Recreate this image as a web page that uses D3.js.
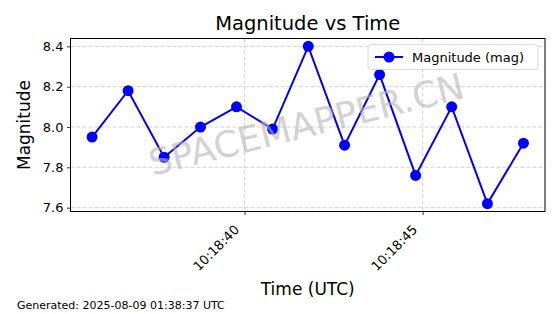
<!DOCTYPE html>
<html>
<head>
<meta charset="utf-8">
<script src="https://cdn.jsdelivr.net/npm/d3@7"></script>
<style>
  body { margin: 0; background: #fff; }
  svg { font-family: "DejaVu Sans", sans-serif; }
</style>
</head>
<body>
<svg id="chart" width="560" height="314"></svg>
<script>
// observation times (seconds after 10:18:00 UTC) and magnitudes
var seconds = [35.722, 36.733, 37.744, 38.764, 39.775, 40.787, 41.789, 42.809, 43.792, 44.803, 45.815, 46.818, 47.829];
var magnitudes = [7.95, 8.18, 7.85, 8.00, 8.10, 7.99, 8.40, 7.91, 8.26, 7.76, 8.10, 7.62, 7.92];
var yTicks = [7.6, 7.8, 8.0, 8.2, 8.4];
var xTickSeconds = [40, 45];

var times = seconds.map(function(s){ return new Date(Date.UTC(2025, 7, 8, 10, 18, 0) + s * 1000); });
var data = times.map(function(t, i){ return {t: t, m: magnitudes[i]}; });

var margin = {left: 70.5, right: 15, top: 38.5, bottom: 102.5};
var W = 560, H = 314;
var w = W - margin.left - margin.right, h = H - margin.top - margin.bottom;

var svg = d3.select("#chart");
var g = svg.append("g").attr("transform", "translate(" + margin.left + "," + margin.top + ")");

// matplotlib-like 5% padding
var tExt = d3.extent(times), pad = (tExt[1] - tExt[0]) * 0.05;
var x = d3.scaleUtc().domain([new Date(+tExt[0] - pad), new Date(+tExt[1] + pad)]).range([0, w]);
var mExt = d3.extent(magnitudes), mPad = (mExt[1] - mExt[0]) * 0.05;
var y = d3.scaleLinear().domain([mExt[0] - mPad, mExt[1] + mPad]).range([h, 0]);

var xTicks = xTickSeconds.map(function(s){ return new Date(Date.UTC(2025, 7, 8, 10, 18, s)); });

// grid
g.append("g").selectAll("line.gy").data(yTicks).enter().append("line")
  .attr("x1", 0).attr("x2", w)
  .attr("y1", function(d){ return y(d); }).attr("y2", function(d){ return y(d); })
  .attr("stroke", "#c8c8c8").attr("stroke-width", 0.8).attr("stroke-dasharray", "4,2");
g.append("g").selectAll("line.gx").data(xTicks).enter().append("line")
  .attr("y1", 0).attr("y2", h)
  .attr("x1", function(d){ return x(d); }).attr("x2", function(d){ return x(d); })
  .attr("stroke", "#c8c8c8").attr("stroke-width", 0.8).attr("stroke-dasharray", "4,2");

// watermark
svg.append("text")
  .attr("transform", "translate(307,127) rotate(-14)")
  .attr("text-anchor", "middle").attr("dominant-baseline", "middle")
  .attr("font-size", 36).attr("fill", "#b4b4b4").attr("fill-opacity", 0.6)
  .text("SPACEMAPPER.CN");

// axes
var yAxis = g.append("g")
  .call(d3.axisLeft(y).tickValues(yTicks).tickFormat(d3.format(".1f")).tickSize(3.5).tickPadding(3.5));
var xAxis = g.append("g").attr("transform", "translate(0," + h + ")")
  .call(d3.axisBottom(x).tickValues(xTicks).tickFormat(d3.utcFormat("%H:%M:%S")).tickSize(3.5).tickPadding(3.5));
[xAxis, yAxis].forEach(function(a){
  a.select(".domain").remove();
  a.selectAll("text").attr("font-size", 13).attr("fill", "#000").attr("font-family", "DejaVu Sans");
  a.selectAll("line").attr("stroke", "#000").attr("stroke-width", 0.8);
});
xAxis.selectAll("text")
  .attr("text-anchor", "end").attr("dy", null).attr("y", 0)
  .attr("transform", "translate(-5,19) rotate(-45)");

// frame
g.append("rect").attr("width", w).attr("height", h)
  .attr("fill", "none").attr("stroke", "#000").attr("stroke-width", 1);

// series
var line = d3.line().x(function(d){ return x(d.t); }).y(function(d){ return y(d.m); });
g.append("path").datum(data).attr("d", line)
  .attr("fill", "none").attr("stroke", "#0000ff").attr("stroke-width", 2);
g.selectAll("circle.pt").data(data).enter().append("circle")
  .attr("cx", function(d){ return x(d.t); }).attr("cy", function(d){ return y(d.m); })
  .attr("r", 5.5).attr("fill", "#0000ff");

// legend
var lg = g.append("g").attr("transform", "translate(" + (w - 177) + ",6)");
lg.append("rect").attr("width", 170).attr("height", 25).attr("rx", 3)
  .attr("fill", "#fff").attr("fill-opacity", 0.8).attr("stroke", "#d0d0d0").attr("stroke-width", 0.8);
lg.append("line").attr("x1", 7).attr("x2", 35).attr("y1", 12.5).attr("y2", 12.5)
  .attr("stroke", "#0000ff").attr("stroke-width", 2);
lg.append("circle").attr("cx", 21).attr("cy", 12.5).attr("r", 5.5).attr("fill", "#0000ff");
lg.append("text").attr("x", 44).attr("y", 17.5).attr("font-size", 13).text("Magnitude (mag)");

// titles
svg.append("text").attr("x", margin.left + w / 2).attr("y", 30)
  .attr("text-anchor", "middle").attr("font-size", 19.5).text("Magnitude vs Time");
svg.append("text").attr("x", margin.left + w / 2).attr("y", 295)
  .attr("text-anchor", "middle").attr("font-size", 17).text("Time (UTC)");
svg.append("text").attr("transform", "translate(30," + (margin.top + h / 2) + ") rotate(-90)")
  .attr("text-anchor", "middle").attr("font-size", 17).text("Magnitude");
svg.append("text").attr("x", 17).attr("y", 309).attr("font-size", 11)
  .text("Generated: 2025-08-09 01:38:37 UTC");
</script>
</body>
</html>
